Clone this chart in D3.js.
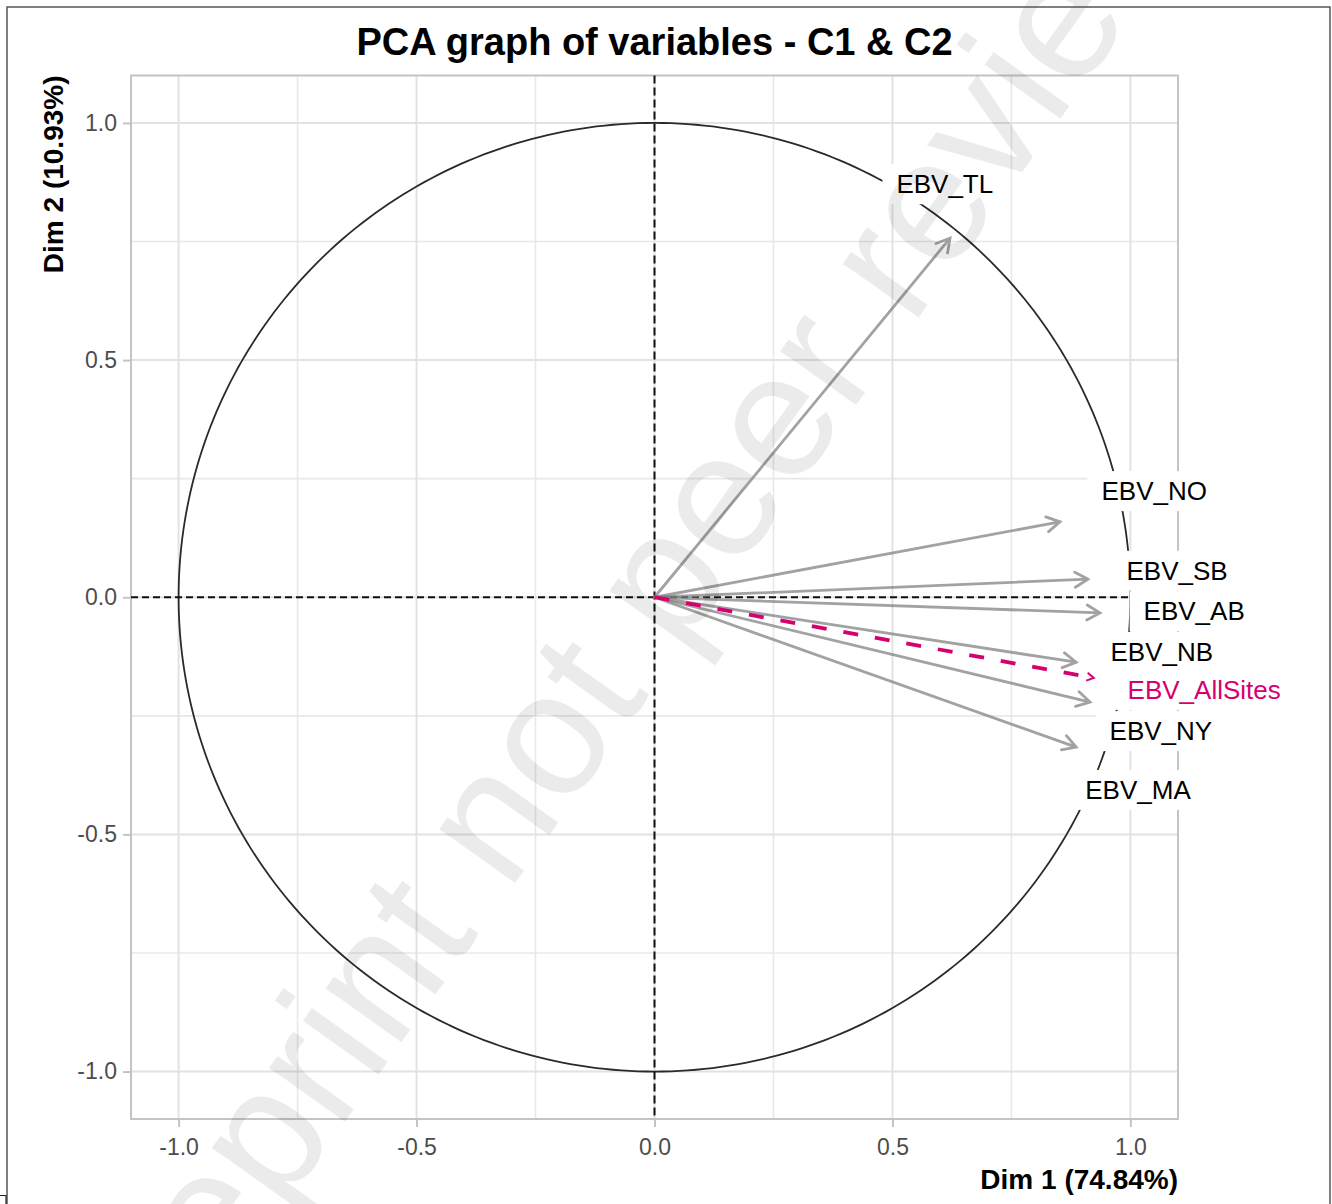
<!DOCTYPE html>
<html>
<head>
<meta charset="utf-8">
<script src="https://cdn.jsdelivr.net/npm/d3@7"></script>
<style>
  body { margin: 0; background: #fff; }
  svg { display: block; font-family: "Liberation Sans", Arial, sans-serif; }
</style>
</head>
<body>
<div id="chart"></div>
<script>
// ---------------------------------------------------------------- DATA
// active variables, coordinates on Dim 1 / Dim 2
var varNames = ["EBV_TL", "EBV_NO", "EBV_SB", "EBV_AB", "EBV_NB", "EBV_NY", "EBV_MA"];
var varDim1  = [0.621, 0.852, 0.911, 0.936, 0.886, 0.915, 0.886];
var varDim2  = [0.757, 0.159, 0.038, -0.033, -0.137, -0.221, -0.316];
// repelled label positions (data units)
var varLabX  = [0.610, 1.050, 1.098, 1.134, 1.066, 1.064, 1.016];
var varLabY  = [0.871, 0.224, 0.056, -0.029, -0.115, -0.282, -0.406];

// supplementary variable
var supNames = ["EBV_AllSites"];
var supDim1  = [0.923];
var supDim2  = [-0.170];
var supLabX  = [1.155];
var supLabY  = [-0.195];

var majorTicks = [-1.0, -0.5, 0.0, 0.5, 1.0];
var minorTicks = [-0.75, -0.25, 0.25, 0.75];

var chartTitle = "PCA graph of variables - C1 & C2";
var xTitle = "Dim 1 (74.84%)";
var yTitle = "Dim 2 (10.93%)";
var watermark = "Preprint not peer reviewed";

// ---------------------------------------------------------------- SETUP
var W = 1332, H = 1204;
var panel = { left: 131, right: 1178, top: 75.5, bottom: 1119 };

var svg = d3.select("#chart").append("svg")
  .attr("width", W)
  .attr("height", H);

var x = d3.scaleLinear().domain([-1.1, 1.1]).range([panel.left, panel.right]);
var y = d3.scaleLinear().domain([-1.1, 1.1]).range([panel.bottom, panel.top]);

var grey = "#c4c4c4";
var pink = "#d6006f";

// grid
var grid = svg.append("g");
grid.selectAll("line.vmin").data(minorTicks).enter().append("line")
  .attr("x1", d => x(d)).attr("x2", d => x(d))
  .attr("y1", panel.top).attr("y2", panel.bottom)
  .attr("stroke", "#e8e8e8").attr("stroke-width", 1.6);
grid.selectAll("line.hmin").data(minorTicks).enter().append("line")
  .attr("y1", d => y(d)).attr("y2", d => y(d))
  .attr("x1", panel.left).attr("x2", panel.right)
  .attr("stroke", "#e8e8e8").attr("stroke-width", 1.6);
grid.selectAll("line.vmaj").data(majorTicks).enter().append("line")
  .attr("x1", d => x(d)).attr("x2", d => x(d))
  .attr("y1", panel.top).attr("y2", panel.bottom)
  .attr("stroke", "#e2e2e2").attr("stroke-width", 2);
grid.selectAll("line.hmaj").data(majorTicks).enter().append("line")
  .attr("y1", d => y(d)).attr("y2", d => y(d))
  .attr("x1", panel.left).attr("x2", panel.right)
  .attr("stroke", "#e2e2e2").attr("stroke-width", 2);

// panel border
svg.append("rect")
  .attr("x", panel.left).attr("y", panel.top)
  .attr("width", panel.right - panel.left)
  .attr("height", panel.bottom - panel.top)
  .attr("fill", "none").attr("stroke", grey).attr("stroke-width", 2);

// axes (ticks + labels)
var fmt = d3.format(".1f");
var xAxis = d3.axisBottom(x).tickValues(majorTicks).tickFormat(d => fmt(d).replace("−", "-"))
  .tickSize(8).tickPadding(6);
var yAxis = d3.axisLeft(y).tickValues(majorTicks).tickFormat(d => fmt(d).replace("−", "-"))
  .tickSize(8).tickPadding(6);

var gx = svg.append("g").attr("transform", "translate(0," + panel.bottom + ")").call(xAxis);
var gy = svg.append("g").attr("transform", "translate(" + panel.left + ",0)").call(yAxis);
[gx, gy].forEach(function(g) {
  g.select(".domain").remove();
  g.selectAll(".tick line").attr("stroke", grey).attr("stroke-width", 2);
  g.selectAll(".tick text")
    .attr("fill", "#4d4d4d")
    .style("font-size", "23px")
    .style("font-family", "'Liberation Sans', Arial, sans-serif");
});
gx.selectAll(".tick text").attr("dy", "0.95em");

// unit circle
var circ = d3.range(0, 361).map(a => [Math.cos(a * Math.PI / 180), Math.sin(a * Math.PI / 180)]);
svg.append("path")
  .datum(circ)
  .attr("d", d3.line().x(d => x(d[0])).y(d => y(d[1])))
  .attr("fill", "none").attr("stroke", "#2a2a2a").attr("stroke-width", 1.8);

// reference lines
svg.append("line")
  .attr("x1", panel.left).attr("x2", panel.right)
  .attr("y1", y(0)).attr("y2", y(0))
  .attr("stroke", "#111").attr("stroke-width", 2).attr("stroke-dasharray", "7,4");
svg.append("line")
  .attr("x1", x(0)).attr("x2", x(0))
  .attr("y1", panel.top).attr("y2", panel.bottom)
  .attr("stroke", "#111").attr("stroke-width", 2).attr("stroke-dasharray", "8,4");

// arrows
function headPath(x0, y0, x1, y1, len, ang) {
  var a = Math.atan2(y1 - y0, x1 - x0);
  var p1 = [x1 - len * Math.cos(a - ang), y1 - len * Math.sin(a - ang)];
  var p2 = [x1 - len * Math.cos(a + ang), y1 - len * Math.sin(a + ang)];
  return "M" + p1 + "L" + x1 + "," + y1 + "L" + p2;
}

var active = varNames.map((n, i) => ({ name: n, d1: varDim1[i], d2: varDim2[i], lx: varLabX[i], ly: varLabY[i] }));
var sup = supNames.map((n, i) => ({ name: n, d1: supDim1[i], d2: supDim2[i], lx: supLabX[i], ly: supLabY[i] }));

var ga = svg.append("g").attr("fill", "none").attr("stroke", "#7a7a7a")
  .attr("stroke-opacity", 0.7).attr("stroke-width", 2.8).attr("stroke-linecap", "round");
ga.selectAll("path").data(active).enter().append("path")
  .attr("d", d => "M" + x(0) + "," + y(0) + "L" + x(d.d1) + "," + y(d.d2) + " " +
    headPath(x(0), y(0), x(d.d1), y(d.d2), 15, Math.PI / 6));

var gs = svg.append("g").attr("fill", "none").attr("stroke", pink).attr("stroke-width", 3.8);
gs.selectAll("line").data(sup).enter().append("line")
  .attr("x1", x(0)).attr("y1", y(0))
  .attr("x2", d => x(d.d1)).attr("y2", d => y(d.d2))
  .attr("stroke-dasharray", "15,17");
gs.selectAll("path").data(sup).enter().append("path")
  .attr("stroke-width", 2)
  .attr("d", d => headPath(x(0), y(0), x(d.d1), y(d.d2), 8, Math.PI / 6));

// labels with white boxes
var gl = svg.append("g");
var allLabels = active.map(d => Object.assign({ col: "#000" }, d))
  .concat(sup.map(d => Object.assign({ col: pink }, d)));
var lab = gl.selectAll("g").data(allLabels).enter().append("g");
lab.append("rect").attr("fill", "#fff");
lab.append("text")
  .attr("x", d => x(d.lx)).attr("y", d => y(d.ly))
  .attr("dy", "0.35em")
  .attr("text-anchor", "middle")
  .attr("fill", d => d.col)
  .style("font-size", "26px")
  .text(d => d.name);
lab.each(function() {
  var g = d3.select(this);
  var b = g.select("text").node().getBBox();
  g.select("rect")
    .attr("x", b.x - 14).attr("y", b.y - 5)
    .attr("width", b.width + 28).attr("height", b.height + 10);
});

// titles
svg.append("text")
  .attr("x", (panel.left + panel.right) / 2).attr("y", 55)
  .attr("text-anchor", "middle")
  .style("font-size", "38px").style("font-weight", "bold")
  .text(chartTitle);
svg.append("text")
  .attr("x", panel.right).attr("y", 1189)
  .attr("text-anchor", "end")
  .style("font-size", "28px").style("font-weight", "bold")
  .text(xTitle);
svg.append("text")
  .attr("transform", "translate(63," + panel.top + ") rotate(-90)")
  .attr("text-anchor", "end")
  .style("font-size", "28px").style("font-weight", "bold")
  .text(yTitle);

// watermark, anchored at the start of "not"
var wm = svg.append("g").attr("transform", "translate(508,893) rotate(-54.5)");
var probe = wm.append("text").style("font-size", "176px").text("Preprint\u00a0");
var off = probe.node().getComputedTextLength();
probe.remove();
wm.append("text")
  .attr("x", -off)
  .style("font-size", "176px")
  .attr("fill", "#000").attr("fill-opacity", 0.08)
  .text(watermark);

// page frame
svg.append("path")
  .attr("d", "M7," + H + "V7H1330V" + H)
  .attr("fill", "none").attr("stroke", "#555").attr("stroke-width", 1.5);
svg.append("path")
  .attr("d", "M0,1195.5H6V1204")
  .attr("fill", "none").attr("stroke", "#222").attr("stroke-width", 1.2);
</script>
</body>
</html>
